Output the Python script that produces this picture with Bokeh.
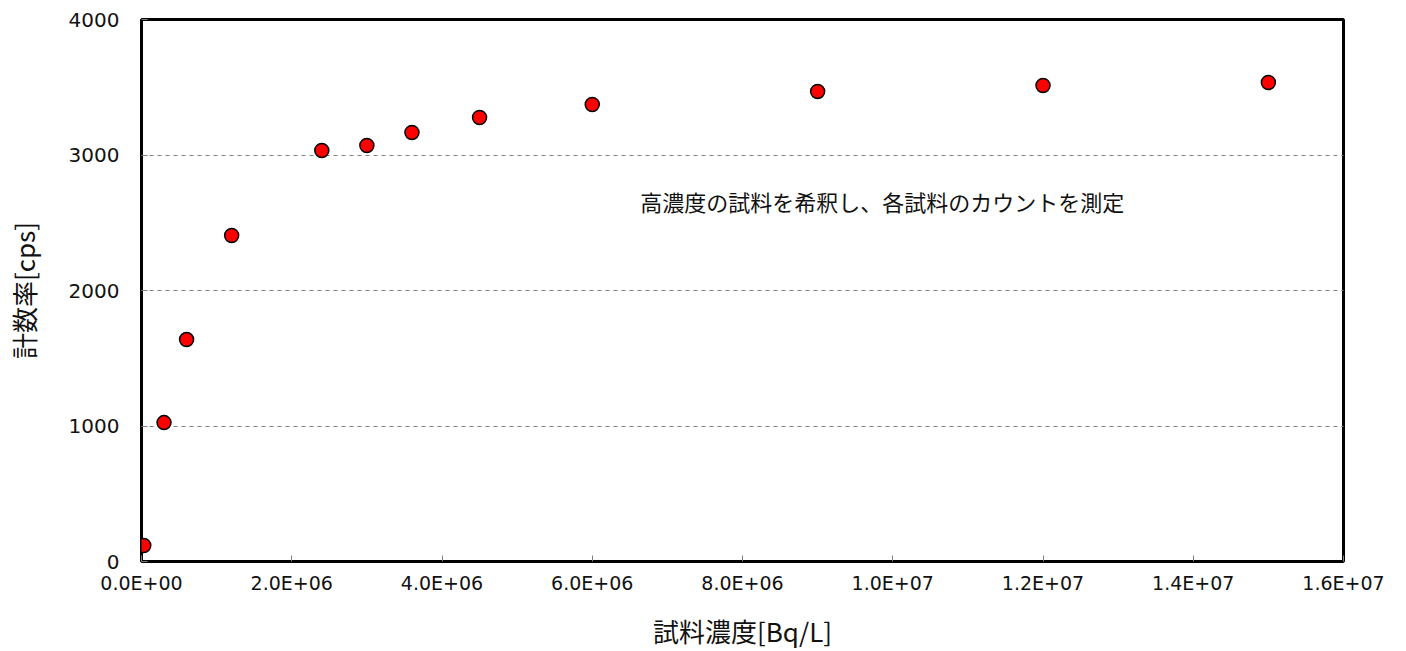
from bokeh.plotting import figure
from bokeh.models import FixedTicker, Label, Range1d
from bokeh.embed import file_html
from bokeh.resources import INLINE

conc = [3.0e4, 3.0e5, 6.0e5, 1.2e6, 2.4e6, 3.0e6, 3.6e6, 4.5e6, 6.0e6, 9.0e6, 1.2e7, 1.5e7]
cps = [118, 1025, 1638, 2406, 3033, 3070, 3166, 3277, 3373, 3469, 3513, 3535]

x_ticks = [0, 2e6, 4e6, 6e6, 8e6, 1e7, 1.2e7, 1.4e7, 1.6e7]
x_tick_labels = ["0.0E+00", "2.0E+06", "4.0E+06", "6.0E+06", "8.0E+06",
                 "1.0E+07", "1.2E+07", "1.4E+07", "1.6E+07"]
y_ticks = [0, 1000, 2000, 3000, 4000]

CJK = "Noto Sans CJK JP"
LAT = "DejaVu Sans"

p = figure(width=1406, height=651, output_backend="svg", toolbar_location=None,
           x_range=Range1d(0, 1.6e7), y_range=Range1d(0, 4000),
           min_border_left=141, min_border_right=63, min_border_top=19, min_border_bottom=90)

p.outline_line_color = "black"
p.outline_line_width = 3

for ax in (p.xaxis[0], p.yaxis[0]):
    ax.axis_line_color = None
    ax.major_tick_in = 6
    ax.major_tick_out = 0
    ax.major_tick_line_color = "#808080"
    ax.minor_tick_line_color = None
    ax.major_label_text_font = LAT
    ax.major_label_text_color = "#111111"
    ax.axis_label_text_font = CJK
    ax.axis_label_text_font_size = "26px"
    ax.axis_label_text_font_style = "normal"
    ax.axis_label_text_color = "#111111"

p.xaxis.major_label_text_font_size = "19px"
p.yaxis.major_label_text_font_size = "20px"
p.xaxis.ticker = FixedTicker(ticks=x_ticks)
p.xaxis.major_label_overrides = {t: l for t, l in zip(x_ticks, x_tick_labels)}
p.yaxis.ticker = FixedTicker(ticks=y_ticks)
p.xaxis.axis_label = "試料濃度[Bq/L]"
p.yaxis.axis_label = "計数率[cps]"
p.xaxis.major_label_standoff = 10
p.yaxis.major_label_standoff = 22
p.xaxis.axis_label_standoff = 15
p.yaxis.axis_label_standoff = 24

p.xgrid.grid_line_color = None
p.ygrid.grid_line_color = "#808080"
p.ygrid.grid_line_dash = "4 4"
p.ygrid.grid_line_width = 1

p.scatter(conc, cps, size=14, fill_color="#ff0000", line_color="black", line_width=1.5)

p.add_layout(Label(x=6.64e6, y=2664, text="高濃度の試料を希釈し、各試料のカウントを測定",
                   text_font=CJK, text_font_size="22px", text_baseline="middle",
                   text_color="#111111"))

open("out.html", "w").write(file_html(p, INLINE))
